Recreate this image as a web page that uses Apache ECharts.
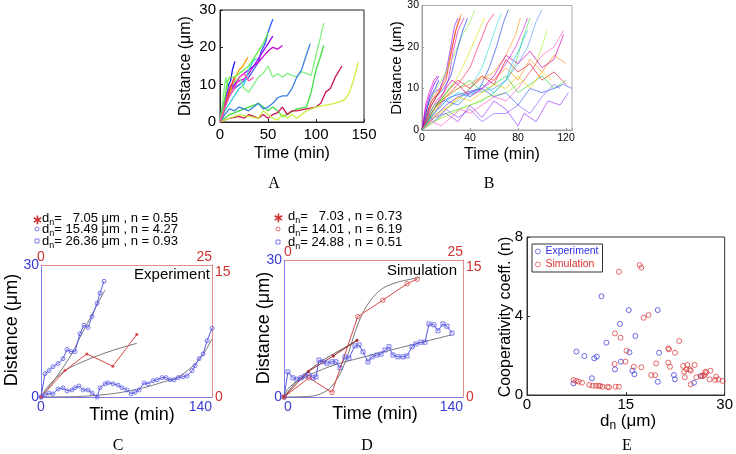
<!DOCTYPE html>
<html><head><meta charset="utf-8">
<script src="https://cdn.jsdelivr.net/npm/echarts@6/dist/echarts.min.js"></script>
<style>html,body{margin:0;padding:0;background:#fff}#c{width:736px;height:454px}</style>
</head><body><div id="c"></div>
<script>
// ---------- Panel A: trajectories (Time min, Distance um) ----------
const a01 = [[0,0],[3,3],[5,6],[7,7.5],[9,10],[11,11],[13,14],[15.5,16.2]];
const a02 = [[0,0],[5,4],[10,7],[15,9],[20,10],[25,11],[30,12],[35,14],[40,16],[43,19],[47,21],[50,24],[55,27.5]];
const a03 = [[0,0],[5,5],[10,8],[15,10],[20,11],[25,11.5],[30,13],[35,15],[40,16],[45,17.5],[50,19],[55,20],[60,19.5],[65,20.5]];
const a04 = [[0,0],[5,4],[10,8],[15,10],[20,12],[25,13],[30,14],[35,15],[40,17],[45,19],[50,21],[55,23]];
const a05 = [[0,0],[4,3],[8,6],[12,9],[16,12],[20,14],[24,15],[27,16.5],[29,17.3]];
const a06 = [[0,0],[5,3],[10,5],[15,7],[20,9],[25,10],[30,14],[35,16.5],[38,17]];
const a07 = [[0,0],[3,6],[6,12],[9,8],[12,10],[16,11],[20,12],[25,9],[30,8],[35,10],[40,12],[45,13],[50,15],[55,12],[60,13],[65,12],[70,13],[75,12.5],[80,12],[85,13.5],[90,13],[95,12.5],[100,18],[104,22],[108,26.5]];
const a08 = [[0,0],[10,2],[20,3],[30,4],[40,5],[50,3],[55,4],[60,3],[65,1.5],[70,2],[80,3.5],[90,4],[95,8],[100,14],[104,17],[108,20.5]];
const a09 = [[0,0],[5,2],[10,3.5],[15,3],[20,4],[25,3.5],[30,3],[35,4],[40,5],[45,3.5],[50,4],[55,5],[60,6.5],[65,7],[70,7],[75,9],[80,12],[85,14],[90,18],[94,21]];
const a10 = [[0,0],[10,1],[20,1.5],[25,1],[30,2],[35,1.5],[40,1],[45,2],[50,1],[55,2],[60,2.5],[65,4],[70,2],[75,3],[80,3],[90,3.5],[100,4],[105,5],[110,8],[115,9],[120,12],[127,15]];
const a11 = [[0,0],[10,1],[20,2],[30,1.5],[40,1],[45,3],[50,2],[55,1],[60,0.5],[65,2],[70,1],[75,2],[80,1],[85,2],[90,3],[100,4],[110,4.5],[120,5],[130,6],[135,8],[140,12],[144,16]];
const a12 = [[0,0],[3,4],[6,7],[9,9],[12,10],[15,9],[18,11]];
const a13 = [[0,0],[3,2],[6,5],[9,8],[12,10],[15,12]];
const a14 = [[0,0],[4,5],[8,11],[10,12],[15,12],[20,13],[25,14],[30,15],[35,17],[40,19],[45,21],[50,24]];
const a15 = [[0,0],[5,4],[10,7],[15,9],[20,12],[25,13],[30,11],[35,12]];
const tracesA = [a01,a02,a03,a04,a05,a06,a07,a08,a09,a10,a11,a12,a13,a14,a15];
const colorsA = ['#1a1aff','#2a5cff','#cc00cc','#9a00ff','#ff9a00','#30d0e0','#80f080','#40e040','#3a80e0','#d01050','#c8f040','#a030ff','#ff3030','#60f040','#ff50b0'];

// ---------- Panel B: simulated trajectories ----------
const b01 = [[0,0],[5,5],[10,8],[15,10],[20,13],[25,20],[30,26],[33,28]];
const b02 = [[0,0],[4,4],[8,7],[14,9],[20,12],[24,18],[28,24],[32,27]];
const b03 = [[0,0],[5,6],[10,9],[15,10],[20,14],[24,20],[27,25],[30,27]];
const b04 = [[0,0],[6,4],[12,7],[18,9],[22,12],[26,19],[30,24],[35,27]];
const b05 = [[0,0],[5,6],[10,9],[16,12],[22,15],[28,19],[34,23],[40,26],[44,29]];
const b06 = [[0,0],[6,5],[12,8],[18,10],[24,13],[30,20],[34,24],[38,27]];
const b07 = [[0,0],[8,3],[16,7],[24,10],[32,14],[40,19],[46,23],[52,27]];
const b08 = [[0,0],[10,4],[20,8],[30,11],[40,15],[48,21],[55,26],[60,28]];
const b09 = [[0,0],[10,2],[20,5],[30,7],[40,10],[50,15],[56,20],[62,25],[66,28]];
const b10 = [[0,0],[12,6],[24,8],[36,9],[48,10],[56,15],[62,20],[68,26],[72,29]];
const b11 = [[0,0],[10,3],[20,6],[30,8],[40,9],[50,10],[60,12],[70,16],[78,20],[84,24],[88,27]];
const b12 = [[0,0],[10,2],[20,4],[30,5],[40,6],[50,7],[60,9],[70,12],[78,16],[84,22],[90,27]];
const b13 = [[0,0],[12,4],[24,6],[36,9],[48,12],[60,14],[70,18],[78,23],[82,27]];
const b14 = [[0,0],[10,3],[20,6],[30,8],[45,9],[60,10],[70,12],[80,16],[88,20],[95,26],[100,29]];
const b15 = [[0,0],[10,2],[25,4],[40,6],[55,8],[70,9],[85,12],[95,16],[100,20],[104,24]];
const b16 = [[0,0],[10,5],[20,9],[30,12],[40,10],[50,13],[60,11],[70,17],[80,14],[90,16],[100,12],[110,14],[120,11]];
const b17 = [[0,0],[10,3],[20,4],[30,2],[40,6],[50,3],[60,7],[70,5],[80,1],[85,4],[95,2],[105,7],[115,6],[122,9]];
const b18 = [[0,0],[10,6],[20,8],[30,10],[40,12],[50,9],[60,11],[70,13],[80,9],[90,11],[100,13],[110,10],[120,12]];
const b19 = [[0,0],[10,4],[20,7],[30,6],[40,9],[50,10],[60,8],[70,9],[80,6],[90,10],[100,9],[110,10],[118,11],[125,10]];
const b20 = [[0,0],[8,2],[16,1],[24,3],[32,5],[40,4],[50,6],[60,8],[70,7],[80,10],[90,14],[100,18],[110,20],[118,24]];
const b21 = [[0,0],[10,5],[20,8],[30,10],[40,11],[50,13],[60,12],[70,15],[80,12],[90,17],[100,14],[110,18],[120,16]];
const b22 = [[0,0],[10,5],[20,10],[25,12],[30,11],[40,8],[50,10],[60,13],[70,18],[80,16],[90,19],[100,15],[110,17],[118,23]];
const b23 = [[0,0],[10,3],[20,5],[30,8],[40,7],[50,9],[60,11],[70,10],[80,13],[90,10],[100,14],[108,12]];
const b24 = [[0,0],[5,4],[10,2],[20,5],[30,3],[40,5],[50,2],[60,4],[70,4],[80,6],[90,4],[100,8],[110,11],[115,10]];
const b25 = [[0,0],[3,5],[6,8],[10,11],[14,13]];
const b26 = [[0,0],[3,4],[7,8],[11,10],[14,12]];
const b27 = [[0,0],[3,6],[6,9],[10,12],[13,13]];
const b28 = [[0,0],[4,3],[8,6],[12,8],[16,10]];
const b29 = [[0,0],[5,2],[10,5],[15,7],[20,9],[25,11]];
const b30 = [[0,0],[10,4],[20,7],[30,9],[40,8],[50,11],[60,9],[70,12],[75,16],[82,20],[88,24]];
const tracesB = [b01,b02,b03,b04,b05,b06,b07,b08,b09,b10,b11,b12,b13,b14,b15,b16,b17,b18,b19,b20,b21,b22,b23,b24,b25,b26,b27,b28,b29,b30];
const colorsB = ['#ff8000','#ff2020','#9020ff','#e020c0','#90f060','#2040ff','#e0e020','#ff3060','#40e0e0','#3050e0','#e030e0','#50e050','#ffa030','#60a0ff','#b0f030','#e02040','#a040ff','#40d040','#4060ff','#ff60c0','#ff9020','#d000a0','#f0d000','#9060ff','#8000ff','#2020ff','#ff00c0','#ff2000','#30ff30','#20c0ff'];

// ---------- Panel C: experiment examples ----------
const cBlue1 = [[0,0],[3.3,5.3],[6.6,6.0],[9.8,6.9],[13.9,7.6],[18.0,8.7],[21.3,10.8],[24.6,10.3],[27.8,10.3],[31.9,14.4],[35.2,16.3],[38.5,15.8],[41.8,18.3],[45.9,21.3],[48.3,23.6],[51.6,26.3]];
const cBlue1Fit = [[0,0],[10,3.5],[18,6.7],[26,10.2],[32,13.6],[40,17.8],[46,21],[52.4,24.3]];
const cBlue2 = [[0,0],[3.3,0.5],[6.6,0.9],[9.8,0.7],[13.9,1.8],[18.0,2.1],[21.3,1.4],[25.4,1.6],[27.8,2.1],[31.1,2.5],[34.4,1.6],[38.5,1.6],[41.8,0.9],[45.9,0],[48.3,2.1],[52.4,3.0],[54.9,3.2],[59.0,3.0],[63.1,2.7],[66.3,2.1],[70.4,1.6],[73.7,0.7],[77.0,1.1],[80.3,1.6],[84.4,3.2],[87.6,3.0],[91.7,3.7],[95.0,3.9],[99.1,4.4],[102.4,4.4],[105.7,3.9],[108.9,3.9],[112.2,4.4],[116.3,4.6],[119.6,4.8],[123.7,6.0],[126.1,7.1],[129.4,8.7],[132.7,9.8],[136.0,12.8],[140.0,15.6]];
const cBlue2Fit = [[0,0],[30,0.1],[60,0.8],[84,2.1],[100,3.4],[112,4.5],[125,7.2],[133,9.8],[140,13.2]];
const cRed = [[0,0],[3.5,3.0],[6.7,4.9],[10.5,3.5],[14.0,7.1]];
const cRedFit = [[0,0],[1,1.2],[3.5,3.0],[7,4.3],[10.5,5.3],[14,6.1]];

// ---------- Panel D: simulation examples ----------
const dBlue = [[0,0],[3.1,5.5],[7.0,4.2],[10.2,3.9],[13.3,4.2],[16.4,4.6],[19.6,4.8],[22.7,4.2],[25.0,4.4],[27.4,8.1],[30.5,7.7],[33.6,7.4],[37.5,7.7],[40.7,7.7],[43.8,6.4],[47.7,8.8],[50.8,8.5],[55.5,11.2],[58.7,11.4],[61.8,9.9],[65.7,7.7],[68.8,8.8],[72.7,9.2],[75.9,9.4],[79.0,10.3],[82.1,11.0],[85.2,9.2],[89.1,8.8],[93.1,8.8],[96.2,9.0],[100.1,11.0],[103.2,11.6],[107.1,12.0],[110.3,12.0],[113.4,16.0],[117.3,15.8],[120.4,14.5],[124.3,16.0],[127.5,15.5],[131.4,14.0]];
const dBlueFit = [[0,0],[3,1.8],[12.5,3.8],[36,6.7],[60,8.6],[91,10.8],[131,13.6]];
const dRedO = [[0,0],[3.5,2.1],[6.7,0.5],[10.3,8.8],[13.8,10.6],[17.2,12.4],[18.6,12.9]];
const dRedOFit = [[0,0],[4,0.1],[6,0.7],[7,1.5],[8,2.8],[9,4.8],[10,7.3],[11,9.2],[12,10.5],[13,11.4],[14,12.0],[16,12.6],[19,13.1]];
const dRedStar = [[0,0],[3.4,2.8],[6.9,4.5],[10.2,6.2]];
const dRedStarFit = [[0,0],[2,1.9],[5,3.8],[8,5.2],[10.2,6.2]];

// ---------- Panel E: cooperativity vs d_n ----------
const eExp = [[7.05,0.59],[7.5,2.2],[8.7,1.97],[10.2,1.86],[10.6,1.94],[9.85,0.85],[11.3,5.0],[12.05,2.65],[13.35,1.3],[14.1,3.6],[14.25,1.69],[15.45,4.3],[15.55,2.16],[16.0,1.23],[16.3,1.05],[16.45,2.99],[19.85,4.3],[20.05,2.14],[19.85,0.67],[22.3,1.01],[22.45,0.79],[25.35,0.62],[26.35,0.96]];
const eSim = [[7.05,0.76],[7.45,0.71],[7.85,0.68],[8.35,0.62],[9.45,0.51],[9.95,0.47],[10.45,0.47],[10.85,0.46],[11.1,0.46],[11.45,0.42],[12.2,0.42],[12.45,0.39],[13.45,0.42],[13.95,0.42],[13.35,3.12],[13.3,1.57],[13.95,6.24],[14.2,2.9],[15.1,2.24],[14.95,1.69],[16.2,1.43],[17.1,6.58],[17.35,6.45],[17.35,1.4],[17.7,3.91],[18.45,4.05],[18.85,1.01],[19.45,1.0],[19.6,1.6],[21.45,2.36],[21.55,2.31],[21.45,1.64],[21.7,1.43],[22.45,2.14],[23.1,2.73],[23.7,1.47],[23.85,1.18],[23.95,0.9],[24.2,1.3],[24.35,1.52],[24.7,1.3],[24.85,1.23],[24.85,0.54],[25.45,1.52],[25.7,0.9],[26.45,0.96],[26.7,0.96],[26.95,1.01],[27.05,1.18],[27.2,1.13],[27.85,1.23],[27.7,0.79],[28.55,0.76],[28.7,0.93],[29.05,0.79],[29.7,0.71]];

// legend texts
const legC = ['=   7.05 \u03bcm , n = 0.55', '= 15.49 \u03bcm , n = 4.27', '= 26.36 \u03bcm , n = 0.93'];
const legD = ['=   7.03 , n = 0.73', '= 14.01 , n = 6.19', '= 24.88 , n = 0.51'];

// ---------- build ----------
const F = 'Liberation Sans, Arial, Helvetica, sans-serif';
const SERIF = 'Liberation Serif, Times New Roman, serif';
const BLUE = '#3a3ad8', BLUEM = '#5a5ae6', BLUEL = '#7c7ce6', RED = '#d03232', REDM = '#d84848', REDL = '#e58a8a', FIT = '#555';
const NOFILL = 'rgba(255,255,255,0)';
const chart = echarts.init(document.getElementById('c'), null, {renderer:'canvas'});

function ln(data, xi, yi, color, width, extra) {
  return Object.assign({type:'line', data, xAxisIndex:xi, yAxisIndex:yi, symbol:'none', showSymbol:false,
    lineStyle:{color, width}, itemStyle:{color}, animation:false, silent:true, z:2}, extra || {});
}
// hollow marker drawn as a plain symbol with transparent fill and a thin border
function mk(data, xi, yi, color, symbol, size, hollow) {
  return ln(data, xi, yi, color, 1, {symbol, symbolSize:size, showSymbol:true,
    itemStyle:{color: hollow ? NOFILL : color, borderColor:color, borderWidth: hollow ? 0.8 : 0}, z:3});
}

const series = [];
tracesA.forEach((d,i) => series.push(ln(d, 0, 0, colorsA[i], 1.3)));
tracesB.forEach((d,i) => series.push(ln(d, 1, 1, colorsB[i], 0.7)));
// C
series.push(ln(cBlue1Fit, 2, 2, FIT, 0.8, {smooth:0.3}));
series.push(ln(cBlue2Fit, 2, 2, FIT, 0.8, {smooth:0.3}));
series.push(ln(cRedFit, 3, 3, FIT, 0.8, {smooth:0.3}));
series.push(mk(cBlue1, 2, 2, BLUEM, 'circle', 4, true));
series.push(mk(cBlue2, 2, 2, BLUEM, 'circle', 4, true));
series.push(mk(cRed, 3, 3, REDM, 'circle', 3, false));
// D
series.push(ln(dBlueFit, 4, 4, FIT, 0.8, {smooth:0.3}));
series.push(ln(dRedOFit, 5, 5, FIT, 0.8, {smooth:0.3}));
series.push(ln(dRedStarFit, 5, 5, '#333', 0.8, {smooth:0.3}));
series.push(mk(dBlue, 4, 4, BLUEM, 'rect', 4, true));
series.push(mk(dRedO, 5, 5, REDM, 'circle', 4.5, true));
series.push(mk(dRedStar, 5, 5, '#a02828', 'circle', 3, false));
// E
series.push({type:'scatter', name:'Experiment', data:eExp, xAxisIndex:6, yAxisIndex:6, symbol:'circle', symbolSize:5,
  itemStyle:{color:NOFILL, borderColor:'#3030e0', borderWidth:0.9}, animation:false, silent:true});
series.push({type:'scatter', name:'Simulation', data:eSim, xAxisIndex:6, yAxisIndex:6, symbol:'circle', symbolSize:5,
  itemStyle:{color:NOFILL, borderColor:'#d83030', borderWidth:0.9}, animation:false, silent:true});

function vax(o) {
  return Object.assign({type:'value', splitLine:{show:false}}, o);
}
const noTick = {show:false};
const xAxis = [
  vax({gridIndex:0, min:0, max:150, interval:50, axisLine:{onZero:false, lineStyle:{color:'#222'}}, axisTick:{inside:true, length:3, lineStyle:{color:'#222'}}, axisLabel:{fontSize:15, color:'#000', fontFamily:F, margin:5}}),
  vax({gridIndex:1, min:0, max:125, interval:40, axisLine:{onZero:false, lineStyle:{color:'#999'}}, axisTick:{inside:true, length:2, lineStyle:{color:'#999'}}, axisLabel:{fontSize:10.5, color:'#000', fontFamily:F, margin:3, formatter:v => (v % 40 === 0 ? String(v) : '')}}),
  vax({gridIndex:2, position:'bottom', min:0, max:140, interval:140, axisLine:{onZero:false, lineStyle:{color:BLUEL}}, axisTick:noTick, axisLabel:{fontSize:14, color:BLUE, fontFamily:F, margin:3, alignMaxLabel:'right'}}),
  vax({gridIndex:2, position:'top', min:0, max:25, interval:25, axisLine:{onZero:false, lineStyle:{color:REDL}}, axisTick:noTick, axisLabel:{fontSize:14, color:RED, fontFamily:F, margin:1, alignMaxLabel:'right'}}),
  vax({gridIndex:3, position:'bottom', min:0, max:140, interval:140, axisLine:{onZero:false, lineStyle:{color:BLUEL}}, axisTick:noTick, axisLabel:{fontSize:14, color:BLUE, fontFamily:F, margin:3, alignMinLabel:'left', alignMaxLabel:'right'}}),
  vax({gridIndex:3, position:'top', min:0, max:25, interval:25, axisLine:{onZero:false, lineStyle:{color:REDL}}, axisTick:noTick, axisLabel:{fontSize:14, color:RED, fontFamily:F, margin:1, alignMinLabel:'left', alignMaxLabel:'right'}}),
  vax({gridIndex:4, min:0, max:30, interval:15, axisLine:{onZero:false, lineStyle:{color:'#333'}}, axisTick:{inside:true, length:3, lineStyle:{color:'#333'}}, axisLabel:{fontSize:15, color:'#000', fontFamily:F, margin:2}})
];
const yAxis = [
  vax({gridIndex:0, min:0, max:30, interval:10, axisLine:{onZero:false, lineStyle:{color:'#222'}}, axisTick:{inside:true, length:3, lineStyle:{color:'#222'}}, axisLabel:{fontSize:15, color:'#000', fontFamily:F, margin:4}}),
  vax({gridIndex:1, min:0, max:30, interval:10, axisLine:{onZero:false, lineStyle:{color:'#999'}}, axisTick:{inside:true, length:2, lineStyle:{color:'#999'}}, axisLabel:{fontSize:10.5, color:'#000', fontFamily:F, margin:3}}),
  vax({gridIndex:2, position:'left', min:0, max:30, interval:30, axisLine:{onZero:false, lineStyle:{color:BLUEL}}, axisTick:noTick, axisLabel:{fontSize:14, color:BLUE, fontFamily:F, margin:2}}),
  vax({gridIndex:2, position:'right', min:0, max:15, interval:15, axisLine:{onZero:false, lineStyle:{color:REDL}}, axisTick:noTick, axisLabel:{fontSize:14, color:RED, fontFamily:F, margin:3, verticalAlignMaxLabel:'top'}}),
  vax({gridIndex:3, position:'left', min:0, max:30, interval:30, axisLine:{onZero:false, lineStyle:{color:BLUEL}}, axisTick:noTick, axisLabel:{fontSize:14, color:BLUE, fontFamily:F, margin:2}}),
  vax({gridIndex:3, position:'right', min:0, max:15, interval:15, axisLine:{onZero:false, lineStyle:{color:REDL}}, axisTick:noTick, axisLabel:{fontSize:14, color:RED, fontFamily:F, margin:3, verticalAlignMaxLabel:'top'}}),
  vax({gridIndex:4, min:0, max:8, interval:4, axisLine:{onZero:false, lineStyle:{color:'#333'}}, axisTick:{inside:true, length:3, lineStyle:{color:'#333'}}, axisLabel:{fontSize:15, color:'#000', fontFamily:F, margin:4}})
];

const grid = [
  {left:220, top:10, width:144, height:112, show:true, borderColor:'#222', borderWidth:1, backgroundColor:'transparent'},
  {left:422, top:5, width:150, height:125, show:true, borderColor:'#aaa', borderWidth:1, backgroundColor:'transparent'},
  {left:41, top:265, width:171, height:132},
  {left:284, top:260, width:179, height:137},
  {left:527, top:237, width:200, height:158, show:true, borderColor:'#333', borderWidth:1, backgroundColor:'transparent'}
];

function txt(x, y, text, st) {
  return {type:'text', x, y, silent:true, z:10,
    style:Object.assign({text, fill:'#000', fontSize:16, fontFamily:F, align:'center', verticalAlign:'middle'}, st || {})};
}
function vtxt(x, y, text, st) { const t = txt(x, y, text, st); t.rotation = Math.PI / 2; return t; }
function subTxt(x, y, rest, size, subSize, st) {
  return txt(x, y, '{a|d}{s|n}{a|' + rest + '}', Object.assign({align:'left', rich:{
    a:{fontSize:size, fontFamily:F, fill:'#000', lineHeight:size + 5, verticalAlign:'middle'},
    s:{fontSize:subSize, fontFamily:F, fill:'#000', lineHeight:size + 5, verticalAlign:'bottom'}}}, st || {}));
}
function star(x, y, color) { return txt(x, y + 2, '\u2217', {fill:color, fontSize:13, fontWeight:'bold'}); }
function circ(x, y, color) { return {type:'circle', shape:{cx:x, cy:y, r:2}, style:{fill:'none', stroke:color, lineWidth:0.8}, silent:true, z:10}; }
function sq(x, y, color) { return {type:'rect', shape:{x:x - 2, y:y - 2, width:4, height:4}, style:{fill:'none', stroke:color, lineWidth:0.8}, silent:true, z:10}; }

const graphic = [
  // A
  vtxt(186, 66, 'Distance (\u03bcm)', {fontSize:16}),
  txt(292, 154, 'Time (min)', {fontSize:16}),
  txt(274, 184, 'A', {fontFamily:SERIF, fontSize:16}),
  // B
  vtxt(397, 68, 'Distance (\u03bcm)', {fontSize:15}),
  txt(502, 155, 'Time (min)', {fontSize:16}),
  txt(489, 184, 'B', {fontFamily:SERIF, fontSize:16}),
  // C
  star(37, 218, RED), circ(37, 229, BLUEM), sq(37, 241, BLUEM),
  subTxt(42, 218, legC[0], 13, 9), subTxt(42, 229, legC[1], 13, 9), subTxt(42, 241, legC[2], 13, 9),
  txt(172, 275, 'Experiment', {fontSize:15}),
  vtxt(12, 330, 'Distance (\u03bcm)', {fontSize:18}),
  txt(132, 415, 'Time (min)', {fontSize:18}),
  txt(118, 446, 'C', {fontFamily:SERIF, fontSize:16}),
  // D
  star(278, 216, RED), circ(278, 229, REDM), sq(278, 242, BLUEM),
  subTxt(288, 216, legD[0], 13, 9), subTxt(288, 229, legD[1], 13, 9), subTxt(288, 242, legD[2], 13, 9),
  txt(422, 271, 'Simulation', {fontSize:15}),
  vtxt(264, 328, 'Distance (\u03bcm)', {fontSize:18}),
  txt(375, 414, 'Time (min)', {fontSize:18}),
  txt(367, 446, 'D', {fontFamily:SERIF, fontSize:16}),
  // E
  vtxt(506, 317, 'Cooperativity coeff. (n)', {fontSize:16}),
  txt(628, 421, '{a|d}{s|n}{a| (\u03bcm)}', {rich:{
    a:{fontSize:17, fontFamily:F, fill:'#000', lineHeight:22, verticalAlign:'middle'},
    s:{fontSize:12, fontFamily:F, fill:'#000', lineHeight:22, verticalAlign:'bottom'}}}),
  txt(627, 446, 'E', {fontFamily:SERIF, fontSize:16})
];

chart.setOption({
  animation:false,
  backgroundColor:'#fff',
  grid, xAxis, yAxis, series, graphic,
  legend:{data:[{name:'Experiment', textStyle:{color:'#3030e0'}}, {name:'Simulation', textStyle:{color:'#d83030'}}],
    orient:'vertical', left:532, top:244, itemWidth:5, itemHeight:5, itemGap:2, padding:[2,4,2,3],
    borderColor:'#333', borderWidth:1, backgroundColor:'#fff', selectedMode:false,
    itemStyle:{borderWidth:0.8},
    textStyle:{fontSize:10.5, fontFamily:F}}
});
</script></body></html>
